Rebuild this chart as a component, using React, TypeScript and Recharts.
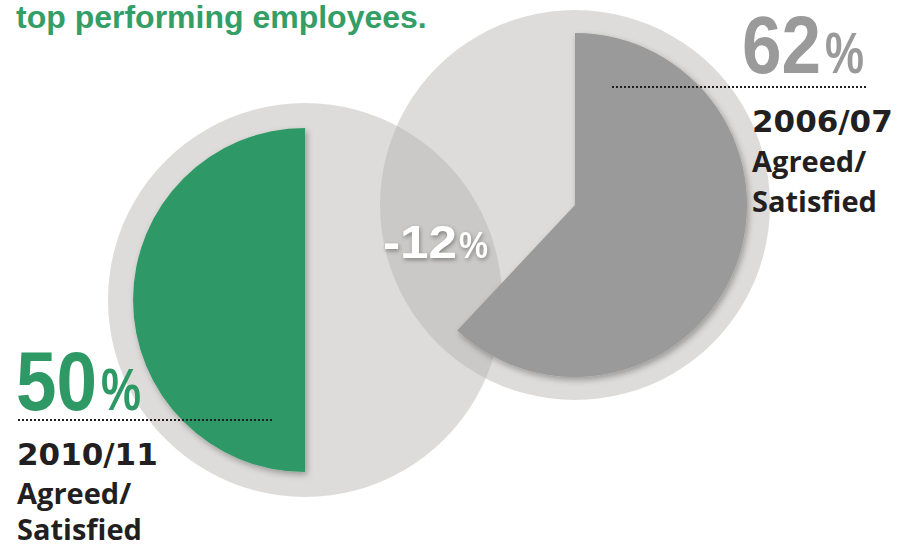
import { PieChart, Pie, Cell } from "recharts"

// survey: share of top performers who agreed / were satisfied
const years = ["2010/11", "2006/07"]
const agreed = [50, 62]
const changeLabel = "-12%"
const answerLabel = ["Agreed/", "Satisfied"]
const title = "top performing employees."

const GREEN = "#2f9966"
const GREY = "#9a9a9a"
const DISC = "#b4b2b0"
const INK = "#231f20"

const toSlices = (v: number) => [
  { name: "Agreed/Satisfied", value: v },
  { name: "Other", value: 100 - v },
]
const disc = [{ name: "base", value: 100 }]

const words = { fontFamily: "'Open Sans', sans-serif", fontWeight: 700, fontSize: 29, fill: INK }
const yearFont = { fontFamily: "'DejaVu Sans', sans-serif", fontWeight: 700, fontSize: 31, fill: INK }
// no condensed face installed, so the big numbers get squeezed with textLength
const bigFont = { fontFamily: "'Liberation Sans', Arial, sans-serif", fontWeight: 700 }

export default function App() {
  return (
    <div style={{ position: "absolute", left: 0, top: 0, width: 900, height: 548, background: "#fff" }}>
      <svg width={0} height={0} style={{ position: "absolute" }}>
        <defs>
          <filter id="soft" x="-20%" y="-20%" width="140%" height="140%">
            <feDropShadow dx={2} dy={3} stdDeviation={3} floodColor="#000" floodOpacity={0.3} />
          </filter>
        </defs>
      </svg>

      <PieChart width={900} height={548} margin={{ top: 0, right: 0, bottom: 0, left: 0 }}>
        {/* background discs, translucent so the overlap reads darker */}
        <Pie data={disc} dataKey="value" cx={575} cy={205} outerRadius={195} stroke="none" isAnimationActive={false}>
          <Cell fill={DISC} fillOpacity={0.46} />
        </Pie>
        <Pie data={disc} dataKey="value" cx={305} cy={300} outerRadius={197} stroke="none" isAnimationActive={false}>
          <Cell fill={DISC} fillOpacity={0.46} />
        </Pie>

        {/* 2010/11 - grows anticlockwise from 12 o'clock */}
        <Pie
          data={toSlices(agreed[0])}
          dataKey="value"
          cx={305}
          cy={300}
          outerRadius={172}
          startAngle={90}
          endAngle={450}
          stroke="none"
          isAnimationActive={false}
        >
          <Cell fill={GREEN} filter="url(#soft)" />
          <Cell fill="none" />
        </Pie>

        {/* 2006/07 - clockwise from 12 o'clock */}
        <Pie
          data={toSlices(agreed[1])}
          dataKey="value"
          cx={575}
          cy={205}
          outerRadius={172}
          startAngle={90}
          endAngle={-270}
          stroke="none"
          isAnimationActive={false}
        >
          <Cell fill={GREY} filter="url(#soft)" />
          <Cell fill="none" />
        </Pie>
      </PieChart>

      <svg width={900} height={548} style={{ position: "absolute", left: 0, top: 0, pointerEvents: "none" }}>
        <text x={16} y={28} fontFamily="'Liberation Sans', Arial, sans-serif" fontWeight={700} fontSize={32} fill="#339e66">
          {title}
        </text>

        {/* right block */}
        <text x={742} y={73} {...bigFont} fontSize={81} fill={GREY} textLength={79} lengthAdjust="spacingAndGlyphs">
          {agreed[1]}
        </text>
        <text x={825} y={73} {...bigFont} fontSize={58} fill={GREY} textLength={39} lengthAdjust="spacingAndGlyphs">
          %
        </text>
        <line x1={612} y1={87} x2={866} y2={87} stroke={INK} strokeWidth={2} strokeDasharray="2 2" />
        <text x={752} y={132} {...yearFont}>{years[1]}</text>
        <text x={752} y={172} {...words}>{answerLabel[0]}</text>
        <text x={752} y={212} {...words}>{answerLabel[1]}</text>

        {/* left block */}
        <text x={16} y={410} {...bigFont} fontSize={84} fill={GREEN} textLength={81} lengthAdjust="spacingAndGlyphs">
          {agreed[0]}
        </text>
        <text x={101} y={410} {...bigFont} fontSize={60} fill={GREEN} textLength={40} lengthAdjust="spacingAndGlyphs">
          %
        </text>
        <line x1={18} y1={420} x2={273} y2={420} stroke={INK} strokeWidth={2} strokeDasharray="2 2" />
        <text x={17} y={465} {...yearFont}>{years[0]}</text>
        <text x={17} y={504} {...words}>{answerLabel[0]}</text>
        <text x={17} y={540} {...words}>{answerLabel[1]}</text>

        {/* difference */}
        <text x={383} y={258} {...bigFont} fill="#fff" style={{ filter: "drop-shadow(1px 2px 2px rgba(0,0,0,0.35))" }}>
          <tspan fontSize={46} textLength={74} lengthAdjust="spacingAndGlyphs">{changeLabel.slice(0, -1)}</tspan>
          <tspan x={459} fontSize={36} textLength={29} lengthAdjust="spacingAndGlyphs">%</tspan>
        </text>
      </svg>
    </div>
  )
}
